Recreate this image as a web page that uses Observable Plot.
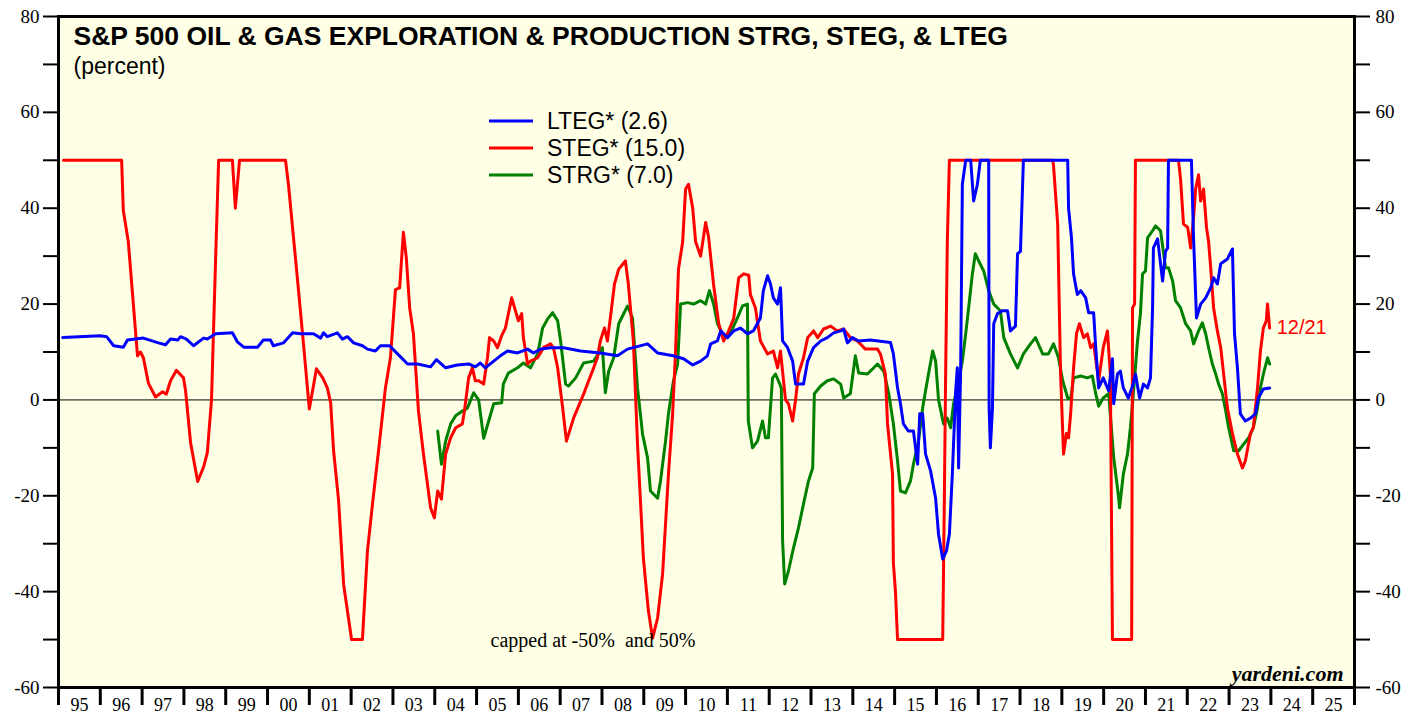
<!DOCTYPE html>
<html><head><meta charset="utf-8">
<script src="https://cdn.jsdelivr.net/npm/d3@7"></script>
<script src="https://cdn.jsdelivr.net/npm/@observablehq/plot@0.6"></script>
<style>
html,body{margin:0;padding:0;background:#fff;}
#chart{position:relative;width:1419px;height:717px;overflow:hidden;}
</style></head><body><div id="chart"></div>
<script>
const titleText = "S&P 500 OIL & GAS EXPLORATION & PRODUCTION STRG, STEG, & LTEG";
const subtitleText = "(percent)";
const noteText = "capped at -50%\u00a0 and 50%";
const sourceText = "yardeni.com";
const lastDateLabel = "12/21";
const seriesNames = ["LTEG* (2.6)", "STEG* (15.0)", "STRG* (7.0)"];
const seriesColors = ["#0000ff", "#ff0000", "#008000"];
const yearTicks = d3.range(1995, 2027);
const yearLabels = ["95","96","97","98","99","00","01","02","03","04","05","06","07","08","09","10","11","12","13","14","15","16","17","18","19","20","21","22","23","24","25"];
const yTicks = d3.range(-60, 81, 10);

// [decimal year, percent]
const lteg = [[1995.10,13],[1996.00,13.4],[1996.15,13.2],[1996.32,11.3],[1996.55,11],[1996.65,12.5],[1997.03,12.9],[1997.39,11.9],[1997.56,11.5],[1997.68,12.7],[1997.85,12.5],[1997.92,13.2],[1998.06,12.7],[1998.23,11.3],[1998.47,12.9],[1998.56,12.7],[1998.76,13.8],[1999.16,14],[1999.28,12.1],[1999.43,11],[1999.76,11],[1999.90,12.5],[2000.07,12.5],[2000.14,11.3],[2000.38,11.9],[2000.60,14],[2000.79,13.8],[2001.10,13.8],[2001.27,12.9],[2001.34,14],[2001.43,13.2],[2001.67,14],[2001.79,12.7],[2001.91,13.2],[2002.06,11.9],[2002.27,11.3],[2002.39,10.6],[2002.58,10.2],[2002.70,11.3],[2002.92,11.3],[2003.11,9.6],[2003.35,7.5],[2003.59,7.5],[2003.90,6.9],[2004.04,8.4],[2004.26,6.7],[2004.54,7.3],[2004.81,7.5],[2004.97,6.9],[2005.09,7.7],[2005.21,6.7],[2005.41,8.1],[2005.57,9.2],[2005.74,10.2],[2005.98,9.8],[2006.22,10.6],[2006.36,9.8],[2006.53,10.6],[2006.77,10.9],[2007.08,10.9],[2007.49,10.2],[2007.96,9.8],[2008.37,9.2],[2008.61,10.6],[2009.09,11.7],[2009.33,9.8],[2009.71,9.2],[2009.95,8.6],[2010.17,7.3],[2010.36,8.1],[2010.52,9.2],[2010.60,11.7],[2010.76,12.3],[2010.84,14.4],[2011.00,13],[2011.15,14.4],[2011.31,15],[2011.48,13.8],[2011.62,14.4],[2011.79,17.1],[2011.86,22.8],[2011.96,25.9],[2012.03,24.2],[2012.10,21.3],[2012.20,20],[2012.27,23.4],[2012.32,12.3],[2012.44,10.9],[2012.56,8.1],[2012.63,3.3],[2012.82,3.3],[2012.92,8.1],[2013.06,10.9],[2013.23,12.3],[2013.39,13],[2013.54,14],[2013.71,14.4],[2013.78,14.8],[2013.87,11.9],[2013.99,13],[2014.14,12.3],[2014.42,12.5],[2014.90,12],[2014.97,9.6],[2015.07,2.5],[2015.14,-0.8],[2015.21,-5],[2015.33,-6.5],[2015.45,-6.5],[2015.55,-13.4],[2015.60,-2.9],[2015.67,-2.9],[2015.74,-11.3],[2015.86,-14.8],[2015.98,-20.5],[2016.05,-28],[2016.15,-33.2],[2016.24,-31.5],[2016.31,-28],[2016.38,-15.5],[2016.46,1.9],[2016.50,6.7],[2016.53,-14.2],[2016.58,6.7],[2016.62,45],[2016.70,50],[2016.82,50],[2016.89,41.5],[2016.98,45],[2017.05,50],[2017.25,50],[2017.26,-1.7],[2017.29,-10],[2017.34,-1.7],[2017.37,15.9],[2017.46,18],[2017.58,18.6],[2017.70,18.6],[2017.77,14.4],[2017.89,15.4],[2017.94,30.5],[2018.01,31],[2018.08,50],[2019.14,50],[2019.16,40],[2019.23,33.8],[2019.28,26.3],[2019.37,22],[2019.45,22.8],[2019.57,21.3],[2019.64,18.2],[2019.76,18.2],[2019.81,10.9],[2019.88,2.5],[2019.99,4.6],[2020.12,1.9],[2020.21,8.6],[2020.24,-0.8],[2020.33,5.4],[2020.40,6],[2020.47,2.5],[2020.59,0.4],[2020.69,2.9],[2020.76,5.4],[2020.86,0.4],[2020.95,3.3],[2021.05,2.5],[2021.12,4.6],[2021.17,19.2],[2021.19,31.7],[2021.29,33.6],[2021.41,24.8],[2021.48,31],[2021.53,31.7],[2021.55,50],[2022.10,50],[2022.15,33.8],[2022.22,17.1],[2022.32,20],[2022.44,21.3],[2022.56,23.4],[2022.63,25.5],[2022.72,24.2],[2022.80,28.4],[2022.96,29.4],[2023.08,31.5],[2023.13,13.8],[2023.20,6.7],[2023.27,-2.9],[2023.39,-4.4],[2023.51,-3.8],[2023.63,-2.9],[2023.70,0.4],[2023.82,2.3],[2023.97,2.5]];

const steg = [[1995.12,50],[1996.51,50],[1996.55,39.5],[1996.67,33],[1996.89,9.2],[1996.96,10],[1997.03,8.8],[1997.15,3.5],[1997.32,0.6],[1997.49,1.7],[1997.58,1.2],[1997.68,4],[1997.82,6.2],[1997.99,4.6],[1998.04,1.9],[1998.16,-9],[1998.33,-17],[1998.47,-14],[1998.56,-11],[1998.66,0],[1998.76,30],[1998.83,50],[1999.16,50],[1999.23,40],[1999.33,50],[2000.43,50],[2000.50,45],[2000.72,24.8],[2000.86,11.7],[2001.00,-1.9],[2001.17,6.5],[2001.32,4.6],[2001.43,2.5],[2001.51,-0.6],[2001.58,-10.6],[2001.70,-21],[2001.82,-38.5],[2002.01,-50],[2002.27,-50],[2002.39,-31.5],[2002.51,-21.8],[2002.70,-7.1],[2002.82,2.5],[2002.94,8.8],[2003.06,23],[2003.16,23.4],[2003.25,35],[2003.32,29.6],[2003.40,19.2],[2003.49,13.8],[2003.61,-2.3],[2003.73,-11.3],[2003.90,-22.5],[2003.99,-24.6],[2004.07,-19],[2004.16,-20.7],[2004.26,-11.3],[2004.38,-7.9],[2004.50,-5.8],[2004.66,-5],[2004.71,-2.3],[2004.81,4.6],[2004.90,6.7],[2004.97,4],[2005.05,4],[2005.17,3.3],[2005.26,8.8],[2005.31,13],[2005.41,12.3],[2005.50,10.9],[2005.60,13.4],[2005.69,15],[2005.84,21.3],[2005.93,18.6],[2006.00,16.5],[2006.08,18],[2006.12,13],[2006.22,7.5],[2006.29,8.1],[2006.46,8.8],[2006.60,10.9],[2006.77,11.7],[2006.84,10.9],[2006.94,6.7],[2007.06,-1.7],[2007.15,-8.6],[2007.25,-5.8],[2007.32,-3.8],[2007.44,-1.3],[2007.56,1.2],[2007.65,3.3],[2007.77,6],[2007.89,8.8],[2007.96,12.3],[2008.06,15],[2008.13,12.3],[2008.23,19.2],[2008.30,24.2],[2008.40,27.3],[2008.56,29],[2008.63,24.2],[2008.75,12.3],[2008.85,-9.2],[2008.92,-21],[2008.99,-33],[2009.11,-44],[2009.21,-49.7],[2009.33,-45.5],[2009.45,-36.3],[2009.52,-25.9],[2009.59,-15.5],[2009.69,-2.9],[2009.76,10.2],[2009.83,27.3],[2009.93,33],[2010.00,44],[2010.07,45],[2010.17,40],[2010.24,33],[2010.36,30],[2010.48,37],[2010.55,34],[2010.67,24],[2010.79,16],[2010.91,12.3],[2011.03,14.4],[2011.15,17],[2011.27,25.5],[2011.39,26.3],[2011.51,26],[2011.55,22],[2011.67,19.2],[2011.79,12.3],[2011.96,9.6],[2012.10,10.2],[2012.20,6.7],[2012.27,10.2],[2012.39,0],[2012.46,-0.8],[2012.56,-4.4],[2012.63,0],[2012.70,5.4],[2012.82,8.8],[2012.92,13],[2013.06,14.4],[2013.16,13],[2013.30,14.8],[2013.47,15.4],[2013.63,14.4],[2013.78,14.8],[2013.94,13],[2014.11,12.3],[2014.30,10.6],[2014.59,10.6],[2014.66,9.6],[2014.78,5.4],[2014.83,-5],[2014.95,-15.5],[2014.97,-34],[2015.02,-40],[2015.07,-50],[2016.15,-50],[2016.19,-20],[2016.22,5.4],[2016.26,33],[2016.31,50],[2018.78,50],[2018.80,49],[2018.90,36.7],[2018.97,5.4],[2019.04,-11.3],[2019.11,-7],[2019.16,-7.9],[2019.21,-2.9],[2019.28,6.7],[2019.35,13.8],[2019.42,15.9],[2019.52,13],[2019.61,13.8],[2019.69,10.9],[2019.76,11.7],[2019.88,4],[2019.99,10.9],[2020.09,14.4],[2020.16,5.4],[2020.21,-50],[2020.67,-50],[2020.69,19.2],[2020.74,20],[2020.76,50],[2021.79,50],[2021.84,46],[2021.91,36.7],[2022.01,36],[2022.08,31.7],[2022.15,38],[2022.20,44],[2022.27,47],[2022.32,41.5],[2022.39,44],[2022.46,36],[2022.51,33],[2022.56,27.6],[2022.63,19.2],[2022.72,14.4],[2022.80,10.9],[2022.87,5.4],[2022.96,-1.7],[2023.08,-7],[2023.20,-11.3],[2023.32,-14.2],[2023.39,-12.7],[2023.51,-7],[2023.58,-5.8],[2023.68,2.5],[2023.75,10.2],[2023.82,15],[2023.89,16.5],[2023.92,20],[2023.97,15]];

const strg = [[2004.07,-6.5],[2004.16,-13.4],[2004.26,-8.6],[2004.38,-5],[2004.50,-3.3],[2004.66,-2.3],[2004.78,-1.7],[2004.93,1.5],[2005.05,0],[2005.17,-8],[2005.29,-4.4],[2005.41,-0.8],[2005.60,-0.6],[2005.64,3.3],[2005.76,5.6],[2005.98,6.7],[2006.12,7.7],[2006.29,6.7],[2006.46,9.6],[2006.58,15],[2006.70,16.9],[2006.82,18.2],[2006.94,16.5],[2007.01,12.3],[2007.13,3.3],[2007.20,2.9],[2007.37,4.6],[2007.56,7.7],[2007.80,8.1],[2008.01,10.9],[2008.08,1.5],[2008.16,6],[2008.28,8.8],[2008.40,15.9],[2008.61,19.6],[2008.73,17.1],[2008.85,2.5],[2008.97,-7.1],[2009.09,-12.1],[2009.16,-19],[2009.33,-20.5],[2009.40,-16.9],[2009.52,-8.6],[2009.59,-2.9],[2009.71,4],[2009.81,7.5],[2009.88,20],[2010.05,20.3],[2010.19,20],[2010.36,20.7],[2010.48,20],[2010.57,22.8],[2010.67,20],[2010.76,16],[2010.88,13.8],[2011.00,13],[2011.12,14.8],[2011.24,17.1],[2011.36,19.6],[2011.48,20],[2011.50,-4.4],[2011.60,-10],[2011.72,-8.6],[2011.84,-4.4],[2011.91,-7.9],[2011.98,-7.9],[2012.08,4.6],[2012.15,5.4],[2012.22,4],[2012.29,2.5],[2012.32,-29.4],[2012.37,-38.4],[2012.46,-35.7],[2012.58,-30.9],[2012.70,-26.7],[2012.82,-21.7],[2012.94,-16.9],[2013.04,-14.2],[2013.08,1.3],[2013.23,2.9],[2013.39,4],[2013.54,4.4],[2013.71,3.3],[2013.78,0.4],[2013.94,1.3],[2014.06,9.2],[2014.14,5.6],[2014.35,5.4],[2014.59,7.5],[2014.74,6],[2014.86,1.3],[2014.97,-5],[2015.07,-12.7],[2015.14,-19],[2015.26,-19.4],[2015.38,-16.9],[2015.45,-13.4],[2015.57,-8.6],[2015.67,-1.7],[2015.74,1.9],[2015.81,5.4],[2015.91,10.2],[2015.98,8.1],[2016.05,0],[2016.17,-5],[2016.26,-3.8],[2016.34,-5.8],[2016.41,-0.8],[2016.53,4],[2016.62,8.1],[2016.70,13.8],[2016.77,19.2],[2016.86,26.3],[2016.93,30.5],[2017.01,29],[2017.13,26.9],[2017.25,22.8],[2017.37,20],[2017.53,18.6],[2017.61,13],[2017.77,9.6],[2017.94,6.7],[2018.08,9.6],[2018.25,11.7],[2018.37,13],[2018.54,9.6],[2018.68,9.6],[2018.80,11.7],[2018.92,8.8],[2019.02,4],[2019.14,0.4],[2019.21,0.2],[2019.28,4.6],[2019.45,5],[2019.61,4.6],[2019.73,5],[2019.81,1.3],[2019.88,-1.3],[2019.99,0.4],[2020.12,1.3],[2020.24,-12],[2020.36,-20.5],[2020.38,-22.5],[2020.47,-15.5],[2020.57,-11.3],[2020.64,-5.8],[2020.71,1.3],[2020.81,12.3],[2020.88,18],[2020.93,26.3],[2021.00,26.9],[2021.05,33.8],[2021.17,35.3],[2021.24,36.3],[2021.36,35.3],[2021.48,27.6],[2021.55,27.6],[2021.65,24.8],[2021.72,20.7],[2021.84,19.2],[2021.96,15.9],[2022.08,14.4],[2022.15,11.7],[2022.27,14.4],[2022.36,16.1],[2022.44,13.8],[2022.51,10.9],[2022.60,7.5],[2022.68,5.4],[2022.75,3.3],[2022.84,1.3],[2022.92,-2.3],[2022.99,-5.8],[2023.11,-10.6],[2023.23,-10.6],[2023.35,-9.2],[2023.47,-7.9],[2023.58,-5.8],[2023.68,-1.7],[2023.75,2.5],[2023.82,5.4],[2023.92,8.8],[2023.97,7.5]];

const toRows = (arr, name) => arr.map(([date, value]) => ({date, value, series: name}));
const ltegRows = toRows(lteg, seriesNames[0]);
const stegRows = toRows(steg, seriesNames[1]);
const strgRows = toRows(strg, seriesNames[2]);
const lastSteg = stegRows[stegRows.length - 1];

const sans = "'Liberation Sans', Arial, sans-serif";
const serif = "'Liberation Serif', 'Times New Roman', serif";
const fmtY = d => (d % 20 === 0 ? String(d) : "");

const plot = Plot.plot({
  width: 1419, height: 717,
  marginLeft: 58, marginRight: 65, marginTop: 16, marginBottom: 30,
  x: {domain: [1995, 2026]},
  y: {domain: [-60, 80]},
  color: {domain: seriesNames, range: seriesColors},
  style: {background: "white", fontFamily: serif, fontSize: "18px", color: "black"},
  marks: [
    Plot.frame({fill: "#ffffe6", stroke: null}),
    Plot.ruleY([0], {stroke: "black", strokeWidth: 1}),
    Plot.line(strgRows, {x: "date", y: "value", stroke: "series", strokeWidth: 3, strokeLinejoin: "round"}),
    Plot.line(stegRows, {x: "date", y: "value", stroke: "series", strokeWidth: 3, strokeLinejoin: "round"}),
    Plot.line(ltegRows, {x: "date", y: "value", stroke: "series", strokeWidth: 3, strokeLinejoin: "round"}),
    Plot.axisY({anchor: "left", label: null, ticks: yTicks, tickSize: 15, tickPadding: 4, tickFormat: fmtY, strokeWidth: 2, fontSize: 19, fontFamily: serif}),
    Plot.axisY({anchor: "right", label: null, ticks: yTicks, tickSize: 15, tickPadding: 6, tickFormat: fmtY, strokeWidth: 2, fontSize: 19, fontFamily: serif}),
    Plot.axisX({label: null, ticks: yearTicks, tickSize: 18, tickFormat: () => "", strokeWidth: 3}),
    Plot.axisX({label: null, ticks: yearLabels.map((_, i) => yearTicks[i] + 0.5), tickSize: 0, tickPadding: 11, tickFormat: (d, i) => yearLabels[i], fontSize: 18, fontFamily: serif}),
    Plot.frame({stroke: "black", strokeWidth: 3}),
    Plot.text([titleText], {text: d => d, frameAnchor: "top-left", dx: 15, dy: 10, lineAnchor: "top", textAnchor: "start", fontFamily: sans, fontWeight: "bold", fontSize: 26.5, fill: "black"}),
    Plot.text([subtitleText], {text: d => d, frameAnchor: "top-left", dx: 15, dy: 41, lineAnchor: "top", textAnchor: "start", fontFamily: sans, fontSize: 23, fill: "black"}),
    Plot.text([noteText], {text: d => d, frameAnchor: "bottom-left", dx: 432, dy: -47, lineAnchor: "middle", textAnchor: "start", fontFamily: serif, fontSize: 20, fill: "black"}),
    Plot.text([sourceText], {text: d => d, frameAnchor: "bottom-right", dx: -11, dy: -14, lineAnchor: "middle", textAnchor: "end", fontFamily: serif, fontWeight: "bold", fontStyle: "italic", fontSize: 22, fill: "black"}),
    Plot.text([lastSteg], {x: "date", y: "value", text: () => lastDateLabel, dx: 7, textAnchor: "start", fontFamily: sans, fontSize: 20, fill: "#ff0000"})
  ]
});
document.getElementById("chart").appendChild(plot);

// legend inside plot area
const svg = d3.select(plot);
const lg = svg.append("g").attr("transform", "translate(489,121)");
seriesNames.forEach((name, i) => {
  const g = lg.append("g").attr("transform", `translate(0,${i * 27})`);
  g.append("line").attr("x1", 0).attr("x2", 44).attr("y1", 0).attr("y2", 0)
    .attr("stroke", seriesColors[i]).attr("stroke-width", 3);
  g.append("text").attr("x", 58).attr("y", 0).attr("dy", "0.35em")
    .attr("text-anchor", "start")
    .attr("font-family", sans).attr("font-size", 23).attr("fill", "black").text(name);
});
</script>
</body></html>
